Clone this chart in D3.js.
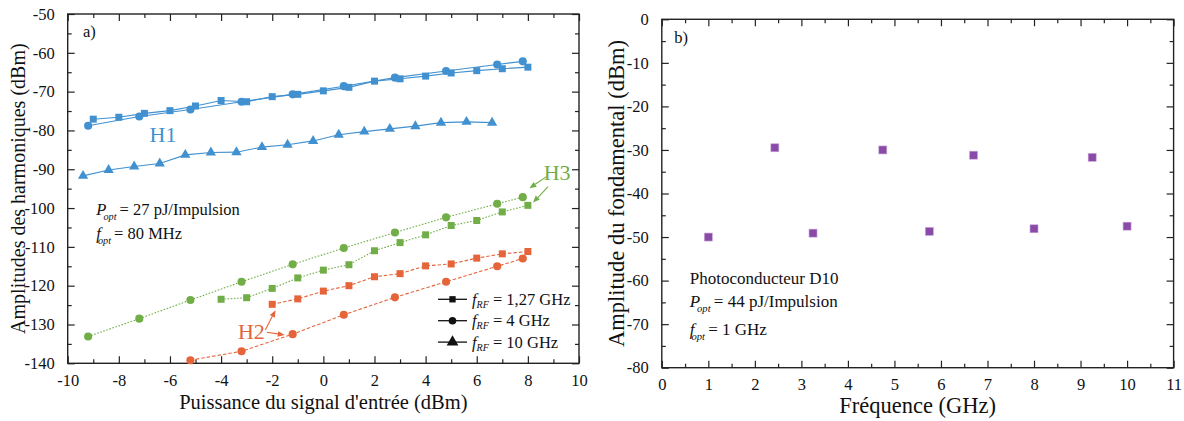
<!DOCTYPE html>
<html>
<head>
<meta charset="utf-8">
<script src="https://cdn.jsdelivr.net/npm/d3@7"></script>
<style>
html,body{margin:0;padding:0;background:#fff;}
svg text{font-family:"Liberation Serif","Times New Roman",serif;fill:#111;}
</style>
</head>
<body>
<svg id="chart" width="1184" height="421"></svg>
<script>
// ---------- Panel a data ----------
const aXTicks = [-10,-8,-6,-4,-2,0,2,4,6,8,10];
const aYTicks = [-140,-130,-120,-110,-100,-90,-80,-70,-60,-50];

const h1SqX = [-9,-8,-7,-6,-5,-4,-3,-2,-1,0,1,2,3,4,5,6,7,8];
const h1SqY = [-77.1,-76.6,-75.6,-74.9,-73.7,-72.3,-72.6,-71.3,-70.7,-69.8,-68.9,-67.3,-66.7,-66.0,-65.2,-64.6,-64.1,-63.7];
const h1CiX = [-9.2,-7.2,-5.2,-3.2,-1.2,0.8,2.8,4.8,6.8,7.8];
const h1CiY = [-78.8,-76.4,-74.6,-72.6,-70.7,-68.6,-66.4,-64.7,-63.0,-62.2];
const h1TrX = [-9.4,-8.4,-7.4,-6.4,-5.4,-4.4,-3.4,-2.4,-1.4,-0.4,0.6,1.6,2.6,3.6,4.6,5.6,6.6];
const h1TrY = [-91.7,-90.2,-89.3,-88.5,-86.3,-85.7,-85.6,-84.3,-83.7,-82.7,-81.1,-80.3,-79.6,-78.9,-78.0,-77.8,-78.0];

const h3CiX = [-9.2,-7.2,-5.2,-3.2,-1.2,0.8,2.8,4.8,6.8,7.8];
const h3CiY = [-133.1,-128.5,-123.7,-119.0,-114.5,-110.3,-106.3,-102.4,-98.9,-97.2];
const h3SqX = [-4,-3,-2,-1,0,1,2,3,4,5,6,7,8];
const h3SqY = [-123.5,-123.1,-120.7,-118.0,-116.0,-114.6,-111.0,-108.9,-106.9,-104.5,-103.2,-101.0,-99.3];

const h2SqX = [-2,-1,0,1,2,3,4,5,6,7,8];
const h2SqY = [-124.8,-123.4,-121.4,-120.0,-117.7,-116.9,-114.9,-114.4,-112.9,-111.8,-111.2];
const h2CiX = [-5.2,-3.2,-1.2,0.8,2.8,4.8,6.8,7.8];
const h2CiY = [-139.2,-136.9,-132.5,-127.5,-123.0,-119.0,-115.0,-113.0];

const legendLabels = ["1,27 GHz","4 GHz","10 GHz"];

// ---------- Panel b data ----------
const bXTicks = [0,1,2,3,4,5,6,7,8,9,10,11];
const bYTicks = [-80,-70,-60,-50,-40,-30,-20,-10,0];
const fundX = [1,2.43,3.25,4.75,5.75,6.7,8,9.25,10];
const fundY = [-50.0,-29.5,-49.1,-30.0,-48.7,-31.2,-48.1,-31.7,-47.5];

// ---------- styles ----------
const BLUE = "#4191d1", GREEN = "#72ae47", ORANGE = "#e5643a", PURPLE = "#8a4aa8";
const svg = d3.select("#chart");

function frame(g, x, y, xMajor, xMinorStep, yMajor, yMinorStep) {
  const [x0, x1] = x.range(), [y0, y1] = y.range(); // y0 bottom, y1 top
  const xd = x.domain(), yd = y.domain();
  const xMinor = d3.range(xd[0], xd[1] + 1e-9, xMinorStep).filter(v => !xMajor.some(m => Math.abs(m - v) < 1e-9));
  const yMinor = d3.range(yd[0], yd[1] + 1e-9, yMinorStep).filter(v => !yMajor.some(m => Math.abs(m - v) < 1e-9));
  const L = 7, l = 4;
  // bottom axis
  g.append("g").attr("transform", `translate(0,${y0})`)
    .call(d3.axisBottom(x).tickValues(xMajor).tickSizeInner(-L).tickSizeOuter(0).tickPadding(11).tickFormat(d => String(d)))
    .call(a => a.select(".domain").remove());
  g.append("g").attr("transform", `translate(0,${y0})`)
    .call(d3.axisBottom(x).tickValues(xMinor).tickSizeInner(-l).tickSizeOuter(0).tickFormat(""))
    .call(a => a.select(".domain").remove());
  // top axis
  g.append("g").attr("transform", `translate(0,${y1})`)
    .call(d3.axisTop(x).tickValues(xMajor).tickSizeInner(-L).tickSizeOuter(0).tickFormat(""))
    .call(a => a.select(".domain").remove());
  g.append("g").attr("transform", `translate(0,${y1})`)
    .call(d3.axisTop(x).tickValues(xMinor).tickSizeInner(-l).tickSizeOuter(0).tickFormat(""))
    .call(a => a.select(".domain").remove());
  // left axis
  g.append("g").attr("transform", `translate(${x0},0)`)
    .call(d3.axisLeft(y).tickValues(yMajor).tickSizeInner(-L).tickSizeOuter(0).tickPadding(13).tickFormat(d => String(d)))
    .call(a => a.select(".domain").remove());
  g.append("g").attr("transform", `translate(${x0},0)`)
    .call(d3.axisLeft(y).tickValues(yMinor).tickSizeInner(-l).tickSizeOuter(0).tickFormat(""))
    .call(a => a.select(".domain").remove());
  // right axis
  g.append("g").attr("transform", `translate(${x1},0)`)
    .call(d3.axisRight(y).tickValues(yMajor).tickSizeInner(-L).tickSizeOuter(0).tickFormat(""))
    .call(a => a.select(".domain").remove());
  g.append("g").attr("transform", `translate(${x1},0)`)
    .call(d3.axisRight(y).tickValues(yMinor).tickSizeInner(-l).tickSizeOuter(0).tickFormat(""))
    .call(a => a.select(".domain").remove());
  g.selectAll(".tick line").attr("stroke", "#222").attr("stroke-width", 1.2);
  g.selectAll(".tick text").attr("font-size", 16.5).attr("font-family", '"Liberation Serif",serif').attr("fill", "#111");
  g.append("rect").attr("x", x0).attr("y", y1).attr("width", x1 - x0).attr("height", y0 - y1)
    .attr("fill", "none").attr("stroke", "#222").attr("stroke-width", 1.4);
}

function series(g, x, y, xs, ys, color, symbol, dash, size) {
  const pts = xs.map((v, i) => [v, ys[i]]);
  g.append("path").datum(pts)
    .attr("d", d3.line().x(d => x(d[0])).y(d => y(d[1])))
    .attr("fill", "none").attr("stroke", color).attr("stroke-width", 1.1)
    .attr("stroke-dasharray", dash || null);
  g.selectAll(null).data(pts).enter().append("path")
    .attr("transform", d => `translate(${x(d[0])},${y(d[1])})`)
    .attr("d", d3.symbol().type(symbol).size(size))
    .attr("fill", color);
}

function arrow(g, x, y, from, to, color) {
  const x1 = x(from[0]), y1 = y(from[1]), x2 = x(to[0]), y2 = y(to[1]);
  const ang = Math.atan2(y2 - y1, x2 - x1);
  const hl = 7, hw = 2.8;
  const bx = x2 - hl * Math.cos(ang), by = y2 - hl * Math.sin(ang);
  g.append("line").attr("x1", x1).attr("y1", y1).attr("x2", bx).attr("y2", by)
    .attr("stroke", color).attr("stroke-width", 1.1);
  g.append("path").attr("d",
    `M${x2},${y2}L${bx - hw * Math.sin(ang)},${by + hw * Math.cos(ang)}L${bx + hw * Math.sin(ang)},${by - hw * Math.cos(ang)}Z`)
    .attr("fill", color);
}

function subText(g, px, py, main, sub, rest, size) {
  const t = g.append("text").attr("x", px).attr("y", py).attr("font-size", size);
  t.append("tspan").attr("font-style", "italic").text(main);
  t.append("tspan").attr("font-style", "italic").attr("font-size", size * 0.62).attr("dy", 5).attr("dx", -3).text(sub);
  t.append("tspan").attr("dy", -5).attr("dx", -1).text(rest);
  return t;
}

// ================= Panel a =================
const xa = d3.scaleLinear().domain([-10, 10]).range([67.7, 579]);
const ya = d3.scaleLinear().domain([-140, -50]).range([363.3, 14]);
const ga = svg.append("g");
frame(ga, xa, ya, aXTicks, 1, aYTicks, 5);

const sq = d3.symbolSquare, ci = d3.symbolCircle, tr = d3.symbolTriangle;
series(ga, xa, ya, h1SqX, h1SqY, BLUE, sq, null, 49);
series(ga, xa, ya, h1CiX, h1CiY, BLUE, ci, null, 52);
series(ga, xa, ya, h1TrX, h1TrY, BLUE, tr, null, 46);
series(ga, xa, ya, h3CiX, h3CiY, GREEN, ci, "1.6 1.6", 52);
series(ga, xa, ya, h3SqX, h3SqY, GREEN, sq, "1.6 1.6", 49);
series(ga, xa, ya, h2SqX, h2SqY, ORANGE, sq, "3.5 2", 49);
series(ga, xa, ya, h2CiX, h2CiY, ORANGE, ci, "3.5 2", 52);

// labels
ga.append("text").attr("x", xa(-9.4)).attr("y", ya(-55.8)).attr("font-size", 16.5).text("a)");
ga.append("text").attr("x", xa(-6.8)).attr("y", ya(-82.9)).attr("font-size", 22).attr("fill", BLUE).style("fill", BLUE).text("H1");
ga.append("text").attr("x", xa(8.62)).attr("y", ya(-92.8)).attr("font-size", 22).style("fill", GREEN).text("H3");
ga.append("text").attr("x", xa(-3.34)).attr("y", ya(-133.7)).attr("font-size", 22).style("fill", ORANGE).text("H2");
arrow(ga, xa, ya, [8.73, -91.9], [8.06, -94.9], GREEN);
arrow(ga, xa, ya, [8.79, -94.5], [8.2, -98.6], GREEN);
arrow(ga, xa, ya, [-2.27, -131.4], [-1.87, -126.3], ORANGE);
arrow(ga, xa, ya, [-2.21, -132.0], [-1.51, -132.7], ORANGE);

subText(ga, xa(-8.88), ya(-101.7), "P", "opt", " = 27 pJ/Impulsion", 16.5);
subText(ga, xa(-8.88), ya(-108.0), "f", "opt", " = 80 MHz", 16.5);

// legend
const legSyms = [sq, ci, tr], legSizes = [40, 45, 60];
legendLabels.forEach((lab, i) => {
  const ly = 299.3 + i * 21.4;
  ga.append("line").attr("x1", 438).attr("x2", 467).attr("y1", ly).attr("y2", ly).attr("stroke", "#111").attr("stroke-width", 1.3);
  ga.append("path").attr("transform", `translate(452.5,${ly})`).attr("d", d3.symbol().type(legSyms[i]).size(legSizes[i])).attr("fill", "#111");
  const t = ga.append("text").attr("x", 472).attr("y", ly + 5.5).attr("font-size", 16.5);
  t.append("tspan").attr("font-style", "italic").text("f");
  t.append("tspan").attr("font-style", "italic").attr("font-size", 10).attr("dy", 3).text("RF");
  t.append("tspan").attr("dy", -3).text(" = " + lab);
});

// axis titles
svg.append("text").attr("transform", `translate(25,${ya(-95)}) rotate(-90)`).attr("text-anchor", "middle")
  .attr("font-size", 20).text("Amplitudes des harmoniques (dBm)");
svg.append("text").attr("x", xa(0)).attr("y", 409).attr("text-anchor", "middle")
  .attr("font-size", 20.5).text("Puissance du signal d'entrée (dBm)");

// ================= Panel b =================
const xb = d3.scaleLinear().domain([0, 11]).range([661.8, 1173.6]);
const yb = d3.scaleLinear().domain([-80, 0]).range([367.7, 19.3]);
const gb = svg.append("g");
frame(gb, xb, yb, bXTicks, 0.5, bYTicks, 5);

gb.selectAll(null).data(fundX.map((v, i) => [v, fundY[i]])).enter().append("rect")
  .attr("x", d => xb(d[0]) - 4).attr("y", d => yb(d[1]) - 4).attr("width", 8).attr("height", 8)
  .attr("fill", PURPLE).attr("stroke", "#c9a8d8").attr("stroke-width", 0.6);

gb.append("text").attr("x", xb(0.27)).attr("y", yb(-5.5)).attr("font-size", 16.5).text("b)");
gb.append("text").attr("x", xb(0.6)).attr("y", yb(-60.8)).attr("font-size", 17).text("Photoconducteur D10");
subText(gb, xb(0.6), yb(-66.0), "P", "opt", " = 44 pJ/Impulsion", 17);
subText(gb, xb(0.6), yb(-72.5), "f", "opt", " = 1 GHz", 17);

svg.append("text").attr("transform", `translate(624,${yb(-40)}) rotate(-90)`).attr("text-anchor", "middle")
  .attr("font-size", 22.5).text("Amplitude du fondamental (dBm)");
svg.append("text").attr("x", xb(5.5)).attr("y", 413).attr("text-anchor", "middle")
  .attr("font-size", 22.5).text("Fréquence (GHz)");
</script>
</body>
</html>
